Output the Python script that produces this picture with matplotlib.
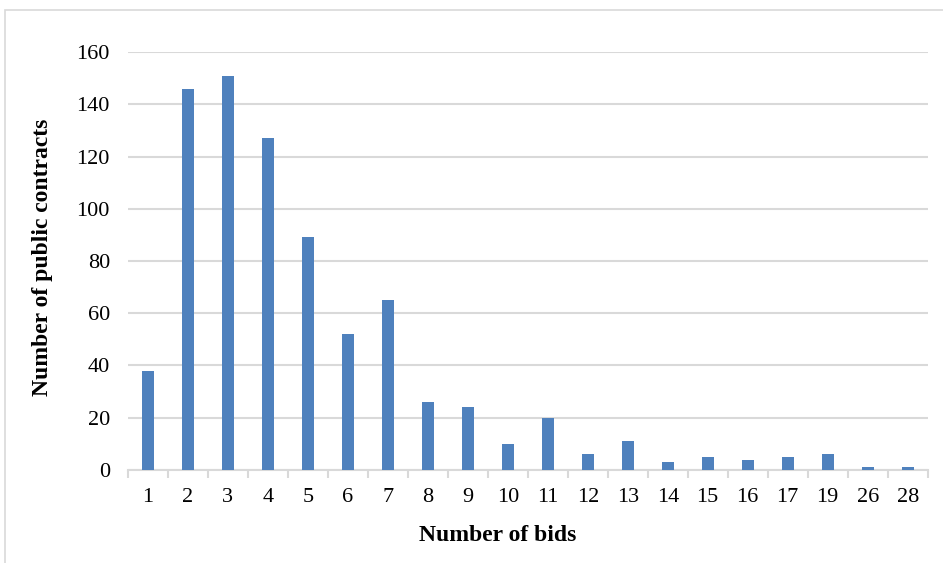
import matplotlib.pyplot as plt
from matplotlib.patches import Rectangle

# number of bids per contract and how many public contracts had that count
bids = ["1", "2", "3", "4", "5", "6", "7", "8", "9", "10",
        "11", "12", "13", "14", "15", "16", "17", "19", "26", "28"]
contracts = [38, 146, 151, 127, 89, 52, 65, 26, 24, 10,
             20, 6, 11, 3, 5, 4, 5, 6, 1, 1]
y_ticks = [0, 20, 40, 60, 80, 100, 120, 140, 160]

plt.rcParams["font.family"] = ["Liberation Serif", "DejaVu Serif"]

fig = plt.figure(figsize=(9.43, 5.63), dpi=100)
ax = fig.add_axes([0.1357, 0.1652, 0.848, 0.7424])

# light frame around the chart area
fig.patches.append(Rectangle((5 / 943, -0.05), 1.0, 1 - 10 / 563 + 0.05,
                             transform=fig.transFigure, fill=False,
                             edgecolor="#d9d9d9", linewidth=1.2))

x = list(range(len(bids)))
ax.bar(x, contracts, width=0.3, color="#4f81bd", zorder=3)

ax.set_xlim(-0.5, len(bids) - 0.5)
ax.set_ylim(0, 160)
ax.set_yticks(y_ticks)
ax.yaxis.grid(True, color="#d9d9d9", linewidth=1.5, zorder=0)
ax.tick_params(axis="y", length=0, pad=13, labelsize=16)

# category labels centred under bars, tick marks between categories
ax.set_xticks(x)
ax.set_xticklabels(bids, fontsize=16)
ax.tick_params(axis="x", length=0, pad=13)
ax.set_xticks([i - 0.5 for i in range(len(bids) + 1)], minor=True)
ax.tick_params(axis="x", which="minor", length=6, color="#d9d9d9", width=1.5)

for side in ["top", "right", "left"]:
    ax.spines[side].set_visible(False)
ax.spines["bottom"].set_color("#d9d9d9")
ax.spines["bottom"].set_linewidth(1.5)

ax.set_xlabel("Number of bids", fontsize=17, fontweight="bold")
ax.set_ylabel("Number of public contracts", fontsize=17, fontweight="bold")
ax.xaxis.set_label_coords(0.4625, -0.132)
ax.yaxis.set_label_coords(-0.094, 0.51)

fig.savefig("out.png", dpi=100)
